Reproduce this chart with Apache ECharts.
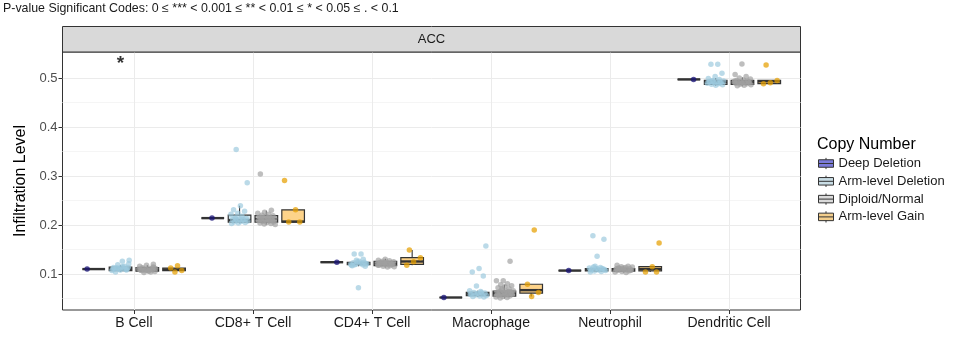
<!DOCTYPE html>
<html><head><meta charset="utf-8">
<script src="https://cdn.jsdelivr.net/npm/echarts@6/dist/echarts.min.js"></script>
<style>html,body{margin:0;padding:0;background:#fff}#c{width:955px;height:341px}</style>
</head><body><div id="c"></div>
<script>
// ---------------- data ----------------
const categories = ['B Cell','CD8+ T Cell','CD4+ T Cell','Macrophage','Neutrophil','Dendritic Cell'];
const groups = ['Deep Deletion','Arm-level Deletion','Diploid/Normal','Arm-level Gain'];
const yTicks = [0.1,0.2,0.3,0.4,0.5];
const yMinorTicks = [0.05,0.15,0.25,0.35,0.45];
const sigCodes = ['*','','','','',''];
const titleText = 'P-value Significant Codes: 0 \u2264 *** < 0.001 \u2264 ** < 0.01 \u2264 * < 0.05 \u2264 . < 0.1';
const panelLabel = 'ACC';

// box statistics per category: [min, q1, median, q3, max]
const boxDeep = [
  [0.110,0.110,0.110,0.110,0.110],
  [0.214,0.214,0.214,0.214,0.214],
  [0.124,0.124,0.124,0.124,0.124],
  [0.052,0.052,0.052,0.052,0.052],
  [0.107,0.107,0.107,0.107,0.107],
  [0.497,0.497,0.497,0.497,0.497]
];
const boxArm = [
  [0.104,0.107,0.110,0.114,0.118],
  [0.203,0.206,0.210,0.220,0.239],
  [0.116,0.119,0.121,0.1235,0.127],
  [0.053,0.0558,0.0595,0.0627,0.066],
  [0.104,0.1065,0.109,0.111,0.115],
  [0.484,0.487,0.4918,0.4953,0.500]
];
const boxDiploid = [
  [0.103,0.106,0.109,0.113,0.118],
  [0.201,0.206,0.212,0.219,0.229],
  [0.113,0.117,0.121,0.126,0.131],
  [0.050,0.055,0.0606,0.0653,0.078],
  [0.103,0.106,0.109,0.111,0.116],
  [0.483,0.487,0.491,0.495,0.501]
];
const boxGain = [
  [0.106,0.107,0.109,0.112,0.112],
  [0.205,0.206,0.207,0.231,0.231],
  [0.118,0.1198,0.1255,0.1333,0.149],
  [0.054,0.061,0.067,0.079,0.079],
  [0.104,0.1065,0.110,0.1149,0.1149],
  [0.488,0.4884,0.4932,0.4953,0.4953]
];

// observed points per category
const ptsDeep = [[0.110],[0.214],[0.124],[0.052],[0.107],[0.497]];
const ptsArm = [
  [0.128,0.126,0.104,0.108,0.109,0.110,0.111,0.112,0.113,0.114,0.110,0.109,0.111,0.107,0.115,0.112,0.110,0.108,0.113,0.116,0.119,0.121],
  [0.354,0.286,0.239,0.231,0.228,0.224,0.222,0.218,0.215,0.213,0.212,0.211,0.210,0.209,0.208,0.207,0.206,0.205,0.204,0.203,0.210,0.212],
  [0.141,0.141,0.116,0.072,0.118,0.119,0.120,0.121,0.122,0.123,0.124,0.125,0.120,0.122,0.119,0.121,0.126,0.117,0.130,0.128],
  [0.157,0.111,0.104,0.096,0.0755,0.066,0.064,0.062,0.061,0.060,0.059,0.058,0.057,0.056,0.055,0.054,0.053,0.060,0.058,0.062],
  [0.178,0.171,0.136,0.104,0.105,0.106,0.107,0.108,0.109,0.110,0.111,0.112,0.113,0.114,0.109,0.110,0.108,0.111,0.116],
  [0.528,0.528,0.5096,0.503,0.499,0.497,0.495,0.494,0.493,0.492,0.491,0.490,0.489,0.488,0.487,0.486,0.485,0.492,0.490,0.494]
];
const ptsDiploid = [
  [0.120,0.118,0.116,0.104,0.103,0.105,0.106,0.107,0.108,0.109,0.110,0.111,0.112,0.113,0.109,0.108,0.110,0.107,0.111,0.106,0.112,0.114],
  [0.304,0.230,0.226,0.224,0.222,0.220,0.219,0.218,0.216,0.215,0.214,0.213,0.212,0.212,0.211,0.210,0.209,0.208,0.207,0.206,0.205,0.204,0.203,0.202,0.201,0.214,0.216,0.209],
  [0.130,0.128,0.127,0.126,0.125,0.124,0.123,0.122,0.122,0.121,0.121,0.120,0.120,0.119,0.118,0.117,0.116,0.115,0.114,0.124,0.119,0.123,0.118],
  [0.126,0.086,0.086,0.080,0.078,0.076,0.074,0.072,0.070,0.068,0.066,0.065,0.064,0.063,0.062,0.061,0.060,0.059,0.058,0.057,0.056,0.055,0.054,0.053,0.052,0.051,0.060,0.062,0.058,0.064,0.070],
  [0.118,0.116,0.115,0.114,0.113,0.112,0.111,0.110,0.110,0.109,0.109,0.108,0.108,0.107,0.106,0.105,0.104,0.103,0.111,0.107,0.112,0.110],
  [0.5286,0.507,0.503,0.500,0.498,0.496,0.495,0.494,0.493,0.492,0.491,0.491,0.490,0.490,0.489,0.488,0.487,0.486,0.485,0.484,0.492,0.489,0.494]
];
const ptsGain = [
  [0.117,0.112,0.107,0.104],
  [0.291,0.231,0.206,0.206],
  [0.149,0.133,0.125,0.118],
  [0.190,0.079,0.062,0.054],
  [0.163,0.115,0.104,0.104],
  [0.5265,0.495,0.490,0.488]
];

// ---------------- styling ----------------
const FONT = '"Liberation Sans", Arial, sans-serif';
const DODGE = [-0.3375,-0.1125,0.1125,0.3375];
const BOX_W = 0.19;
const boxFill = ['#8080C5','#D3E9F1','#D8D8D8','#FDD38A'];
const ptColor = ['rgba(25,20,120,0.95)','rgba(155,201,221,0.85)','rgba(160,160,160,0.85)','rgba(230,159,0,0.9)'];
const legendFill = ['#7B7BDA','#C9DDE5','#DADADA','#F3CE8C'];
const LINE = '#333333';
const LEGEND_ICON = 'path://M0,2H16V10H0Z M0,6H16 M8,0V2 M8,10V12';

const boxSets = [boxDeep, boxArm, boxDiploid, boxGain];
const ptSets = [ptsDeep, ptsArm, ptsDiploid, ptsGain];

function jitter(k){ return (((k*0.6180339887)+0.13)%1 - 0.5) * 0.15; }

function renderBox(fill){
  return function(params, api){
    const x = api.value(0);
    const lo = api.coord([x, api.value(1)]);
    const q1 = api.coord([x, api.value(2)]);
    const md = api.coord([x, api.value(3)]);
    const q3 = api.coord([x, api.value(4)]);
    const hi = api.coord([x, api.value(5)]);
    const w = api.size([BOX_W, 0])[0];
    const cx = lo[0];
    return {type:'group', children:[
      {type:'line', shape:{x1:cx,y1:hi[1],x2:cx,y2:q3[1]}, style:{stroke:LINE,lineWidth:1.1}},
      {type:'line', shape:{x1:cx,y1:q1[1],x2:cx,y2:lo[1]}, style:{stroke:LINE,lineWidth:1.1}},
      {type:'rect', shape:{x:cx-w/2,y:q3[1],width:w,height:Math.max(0,q1[1]-q3[1])}, style:{fill:fill,stroke:LINE,lineWidth:1.2}},
      {type:'line', shape:{x1:cx-w/2,y1:md[1],x2:cx+w/2,y2:md[1]}, style:{stroke:LINE,lineWidth:2.4}}
    ]};
  };
}

const series = [];
groups.forEach((g, gi) => {
  series.push({
    name: g, type: 'custom', z: 2, silent: true,
    itemStyle: {color: legendFill[gi]},
    renderItem: renderBox(boxFill[gi]),
    data: boxSets[gi].map((b, ci) => [ci + 1 + DODGE[gi], b[0], b[1], b[2], b[3], b[4]]),
    encode: {x: 0, y: [1,2,3,4,5]}
  });
});
groups.forEach((g, gi) => {
  const data = [];
  ptSets[gi].forEach((arr, ci) => {
    arr.forEach((v, k) => { data.push([ci + 1 + DODGE[gi] + jitter(k + ci*7 + gi*3), v]); });
  });
  series.push({
    name: g, type: 'scatter', z: 3, silent: true,
    symbolSize: 5.5,
    itemStyle: {color: ptColor[gi]},
    data: data
  });
});
// significance codes
series.push({
  type: 'scatter', z: 4, silent: true, symbolSize: 1,
  itemStyle: {color: 'rgba(0,0,0,0)'},
  label: {show: true, position: 'inside', formatter: p => p.data[2], fontSize: 19, fontWeight: 'bold', color: '#000', fontFamily: FONT},
  data: sigCodes.map((s, ci) => [ci + 1 + DODGE[1], 0.530, s]).filter(d => d[2])
});
// minor grid lines (secondary hidden y axis carries them)
series.push({type:'line', yAxisIndex:1, data:[], silent:true});

const chart = echarts.init(document.getElementById('c'), null, {renderer:'canvas'});
chart.setOption({
  animation: false,
  backgroundColor: '#fff',
  title: [
    {text: titleText, left: 3, top: 3, padding: 0, textStyle:{fontSize:12.4, fontWeight:'normal', color:'#1a1a1a', fontFamily:FONT}},
    {text: 'Copy Number', left: 817, top: 137, padding: 0, textStyle:{fontSize:16, fontWeight:'normal', color:'#000', fontFamily:FONT}}
  ],
  legend: {
    orient: 'vertical', left: 818, top: 157, padding: 0,
    itemWidth: 15, itemHeight: 12, itemGap: 4.8,
    selectedMode: false,
    textStyle: {fontSize: 13, color: '#1a1a1a', fontFamily: FONT},
    data: groups.map((g, i) => ({name: g, icon: LEGEND_ICON, itemStyle: {color: legendFill[i], borderColor: LINE, borderWidth: 1}}))
  },
  graphic: [
    {type:'rect', shape:{x:62.5, y:26.5, width:738, height:25.5}, style:{fill:'#D9D9D9', stroke:LINE, lineWidth:1}, z: 10},
    {type:'text', x: 431.5, y: 39.5, style:{text: panelLabel, fontSize: 13, fill:'#1a1a1a', font: '13px ' + FONT, textAlign:'center', textVerticalAlign:'middle'}, z: 11}
  ],
  grid: {left: 62.5, top: 52, width: 738, height: 258, show: true, borderColor: LINE, borderWidth: 1, backgroundColor: '#fff', containLabel: false},
  xAxis: {
    type: 'value', min: 0.4, max: 6.6,
    axisLine: {show: false},
    axisTick: {show: true, customValues: [1,2,3,4,5,6], length: 4, lineStyle: {color: LINE}},
    axisLabel: {show: true, customValues: [1,2,3,4,5,6], formatter: v => categories[Math.round(v) - 1], fontSize: 14, color: '#1a1a1a', fontFamily: FONT, margin: 6},
    splitLine: {show: true, lineStyle: {color: '#EBEBEB', width: 1}}
  },
  yAxis: [
    {
      type: 'value', min: 0.0265, max: 0.553,
      name: 'Infiltration Level', nameLocation: 'middle', nameGap: 32,
      nameTextStyle: {fontSize: 16, color: '#000', fontFamily: FONT},
      axisLine: {show: false},
      axisTick: {show: true, customValues: yTicks, length: 4, lineStyle: {color: LINE}},
      axisLabel: {show: true, customValues: yTicks, formatter: v => v.toFixed(1), fontSize: 13, color: '#4D4D4D', fontFamily: FONT, margin: 5},
      splitLine: {show: true, lineStyle: {color: '#EBEBEB', width: 1}}
    },
    {
      type: 'value', min: 0.0265, max: 0.553, position: 'left',
      axisLine: {show: false},
      axisTick: {show: false, customValues: yMinorTicks},
      axisLabel: {show: false, customValues: yMinorTicks},
      splitLine: {show: true, lineStyle: {color: '#F5F5F5', width: 1}}
    }
  ],
  series: series
});
</script>
</body></html>
